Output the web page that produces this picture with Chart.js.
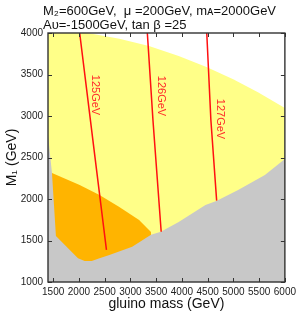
<!DOCTYPE html>
<html>
<head>
<meta charset="utf-8">
<script src="https://cdn.jsdelivr.net/npm/chart.js@4/dist/chart.umd.min.js"></script>
<style>
  html, body { margin: 0; padding: 0; background: #fff; }
  #wrap { width: 300px; height: 313px; }
</style>
</head>
<body>
<div id="wrap"><canvas id="c"></canvas></div>
<script>
// axis ticks
const xTicks = [1500, 2000, 2500, 3000, 3500, 4000, 4500, 5000, 5500, 6000];
const yTicks = [1000, 1500, 2000, 2500, 3000, 3500, 4000];

// region boundaries (gluino mass, M1)
const yellowX = [1400, 2169, 2785, 3361, 3938, 4477, 4996, 5477, 6000];
const yellowY = [4000, 4000, 3932, 3842, 3723, 3591, 3443, 3286, 3097];

const orangeX = [1477, 2015, 2400, 2785, 3169, 3400];
const orangeY = [2313, 2169, 2048, 1904, 1747, 1602];

const grayX = [1400, 1477, 1554, 1983, 2112, 2250, 2400, 2592, 3035, 3400, 3592, 3938, 4458, 4669, 5092, 5612, 6000];
const grayY = [2771, 2313, 1554, 1286, 1253, 1253, 1285, 1325, 1425, 1570, 1606, 1723, 1928, 1976, 2109, 2289, 2482];

// higgs mass contours
const h125X = [2015, 2311, 2535];
const h125Y = [4000, 2510, 1386];
const h126X = [3329, 3438, 3598];
const h126Y = [4000, 2952, 1606];
const h127X = [4483, 4563, 4675];
const h127Y = [4000, 2952, 1980];

const contourLabels = ['125GeV', '126GeV', '127GeV'];
const labelX = [2323, 3592, 4746];
const labelY = [3253, 3241, 2964];

const titleLines = ['M\u2082=600GeV,  \u03BC =200GeV, m\u1D00=2000GeV', 'A\u1D1C=-1500GeV, tan \u03B2 =25'];

const pts = (xs, ys) => xs.map((x, i) => ({x: x, y: ys[i]}));

const redLine = (xs, ys) => ({
    data: pts(xs, ys),
    borderColor: '#ff1010',
    borderWidth: 1.5,
    pointRadius: 0,
    fill: false
});

const area = (xs, ys, color) => ({
    data: pts(xs, ys),
    borderColor: color,
    borderWidth: 0,
    backgroundColor: color,
    pointRadius: 0,
    fill: 'start'
});

const frame = {
    id: 'frame',
    afterDatasetsDraw(chart) {
        const {ctx, chartArea: a, scales} = chart;
        ctx.save();
        // contour labels
        ctx.fillStyle = '#ff2a2a';
        ctx.font = '11px "Liberation Sans", Arial, sans-serif';
        ctx.textAlign = 'center';
        ctx.textBaseline = 'middle';
        contourLabels.forEach((t, i) => {
            ctx.save();
            ctx.translate(scales.x.getPixelForValue(labelX[i]), scales.y.getPixelForValue(labelY[i]));
            ctx.rotate(Math.PI / 2);
            ctx.fillText(t, 0, 0);
            ctx.restore();
        });
        // inward ticks on all four sides
        ctx.strokeStyle = '#333';
        ctx.lineWidth = 1;
        const len = 4;
        ctx.beginPath();
        scales.x.ticks.forEach(t => {
            const px = Math.round(scales.x.getPixelForValue(t.value)) + 0.5;
            ctx.moveTo(px, a.bottom); ctx.lineTo(px, a.bottom - len);
            ctx.moveTo(px, a.top); ctx.lineTo(px, a.top + len);
        });
        scales.y.ticks.forEach(t => {
            const py = Math.round(scales.y.getPixelForValue(t.value)) + 0.5;
            ctx.moveTo(a.left, py); ctx.lineTo(a.left + len, py);
            ctx.moveTo(a.right, py); ctx.lineTo(a.right - len, py);
        });
        ctx.stroke();
        ctx.lineWidth = 1.4;
        ctx.strokeRect(a.left, a.top, a.right - a.left, a.bottom - a.top);
        // title
        ctx.fillStyle = '#111';
        ctx.textAlign = 'left';
        ctx.textBaseline = 'alphabetic';
        ctx.font = '13px "Liberation Sans", Arial, sans-serif';
        ctx.fillText(titleLines[0], 43, 15);
        ctx.fillText(titleLines[1], 43, 29);
        ctx.restore();
    }
};

new Chart(document.getElementById('c'), {
    type: 'line',
    data: {
        datasets: [
            redLine(h125X, h125Y),
            redLine(h126X, h126Y),
            redLine(h127X, h127Y),
            area(grayX, grayY, '#c8c8c8'),
            area(orangeX, orangeY, '#ffb400'),
            area(yellowX, yellowY, '#ffff88')
        ]
    },
    options: {
        responsive: true,
        maintainAspectRatio: false,
        animation: false,
        layout: { padding: { top: 33, right: 13, left: 0, bottom: 0 } },
        scales: {
            x: {
                type: 'linear',
                min: 1400,
                max: 6000,
                afterBuildTicks: s => { s.ticks = xTicks.map(v => ({value: v})); },
                afterFit: s => { s.height = 31; },
                grid: { display: false, drawTicks: false },
                border: { display: false },
                ticks: {
                    padding: 4,
                    maxRotation: 0,
                    autoSkip: false,
                    callback: v => String(v),
                    color: '#222',
                    font: { size: 10, family: '"Liberation Sans", Arial, sans-serif' }
                },
                title: {
                    display: true,
                    text: 'gluino mass (GeV)',
                    color: '#111',
                    padding: { top: 2, bottom: 0 },
                    font: { size: 14, family: '"Liberation Sans", Arial, sans-serif' }
                }
            },
            y: {
                type: 'linear',
                min: 1000,
                max: 4000,
                afterBuildTicks: s => { s.ticks = yTicks.map(v => ({value: v})); },
                afterFit: s => { s.width = 48; },
                grid: { display: false, drawTicks: false },
                border: { display: false },
                ticks: {
                    padding: 5,
                    autoSkip: false,
                    callback: v => String(v),
                    color: '#222',
                    font: { size: 10, family: '"Liberation Sans", Arial, sans-serif' }
                },
                title: {
                    display: true,
                    text: 'M\u2081 (GeV)',
                    color: '#111',
                    padding: { top: 4, bottom: 0 },
                    font: { size: 14, family: '"Liberation Sans", Arial, sans-serif' }
                }
            }
        },
        plugins: {
            legend: { display: false },
            tooltip: { enabled: false },
            title: { display: false }
        }
    },
    plugins: [frame]
});
</script>
</body>
</html>
